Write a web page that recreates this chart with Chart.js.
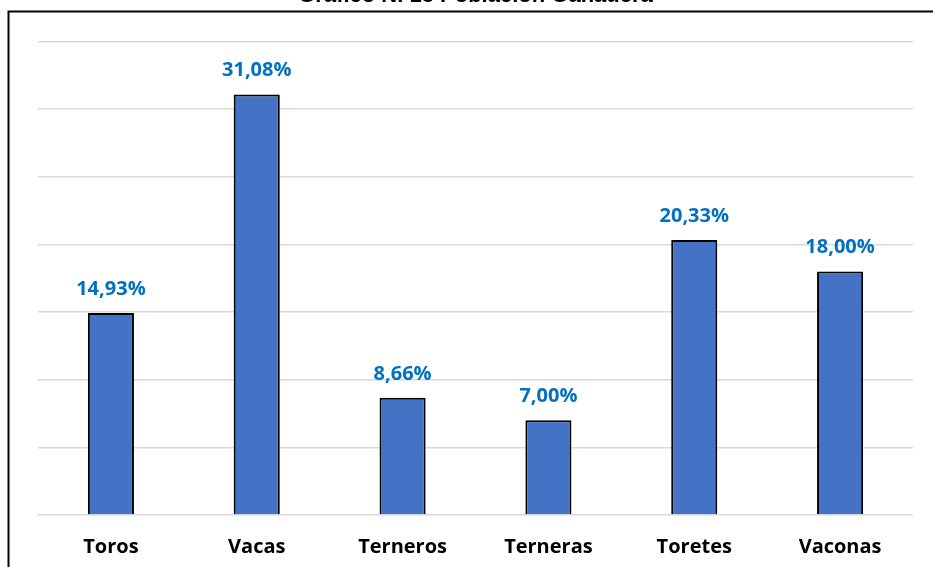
<!DOCTYPE html>
<html>
<head>
<meta charset="utf-8">
<script src="https://cdn.jsdelivr.net/npm/chart.js@4"></script>
<style>
  html, body { margin: 0; padding: 0; background: #fff; overflow: hidden; }
  #grafico { position: absolute; left: 0; top: -20px; }
</style>
</head>
<body>
<canvas id="grafico" width="933" height="601"></canvas>
<script>
const categorias = ['Toros', 'Vacas', 'Terneros', 'Terneras', 'Toretes', 'Vaconas'];
const porcentajes = [14.93, 31.08, 8.66, 7.00, 20.33, 18.00];
const titulo = 'Gráfico N. 13 Población Ganadera';

// etiquetas encima de cada barra, formato 14,93%
const etiquetasBarras = {
    id: 'etiquetasBarras',
    afterDatasetsDraw(chart) {
        const ctx = chart.ctx;
        const meta = chart.getDatasetMeta(0);
        ctx.save();
        ctx.font = 'bold 20px "Open Sans", sans-serif';
        ctx.fillStyle = '#0070C0';
        ctx.textAlign = 'center';
        ctx.textBaseline = 'middle';
        meta.data.forEach((bar, i) => {
            const txt = porcentajes[i].toFixed(2).replace('.', ',') + '%';
            ctx.fillText(txt, bar.x, bar.y - 24);
        });
        ctx.restore();
    }
};

// marco del grafico (borde izquierdo y superior)
const marco = {
    id: 'marco',
    afterDraw(chart) {
        const ctx = chart.ctx;
        ctx.save();
        ctx.strokeStyle = '#000';
        ctx.lineWidth = 2;
        ctx.beginPath();
        ctx.moveTo(8.5, chart.height + 5);
        ctx.lineTo(8.5, 31.5);
        ctx.lineTo(chart.width + 5, 31.5);
        ctx.stroke();
        ctx.restore();
    }
};

new Chart(document.getElementById('grafico').getContext('2d'), {
    type: 'bar',
    data: {
        labels: categorias,
        datasets: [{
            data: porcentajes,
            backgroundColor: '#4472C4',
            borderColor: '#000',
            borderWidth: 2,
            borderSkipped: 'bottom',
            categoryPercentage: 1,
            barPercentage: 0.316
        }]
    },
    options: {
        responsive: false,
        animation: false,
        layout: { padding: { left: 38, right: 20, top: 0, bottom: 10 } },
        plugins: {
            legend: { display: false },
            tooltip: { enabled: false },
            title: {
                display: true,
                text: titulo,
                color: '#000',
                font: { family: '"Liberation Sans", Arial, sans-serif', size: 22, weight: 'bold' },
                padding: { top: 3, bottom: 32 }
            }
        },
        scales: {
            x: {
                grid: { display: false },
                border: { display: false },
                ticks: {
                    color: '#000',
                    padding: 12,
                    font: { family: '"Open Sans", sans-serif', size: 20, weight: 'bold' }
                }
            },
            y: {
                min: 0,
                max: 35,
                ticks: { display: false, stepSize: 5 },
                border: { display: false },
                grid: { color: '#d9d9d9', lineWidth: 1.5, drawTicks: false }
            }
        }
    },
    plugins: [etiquetasBarras, marco]
});
</script>
</body>
</html>
